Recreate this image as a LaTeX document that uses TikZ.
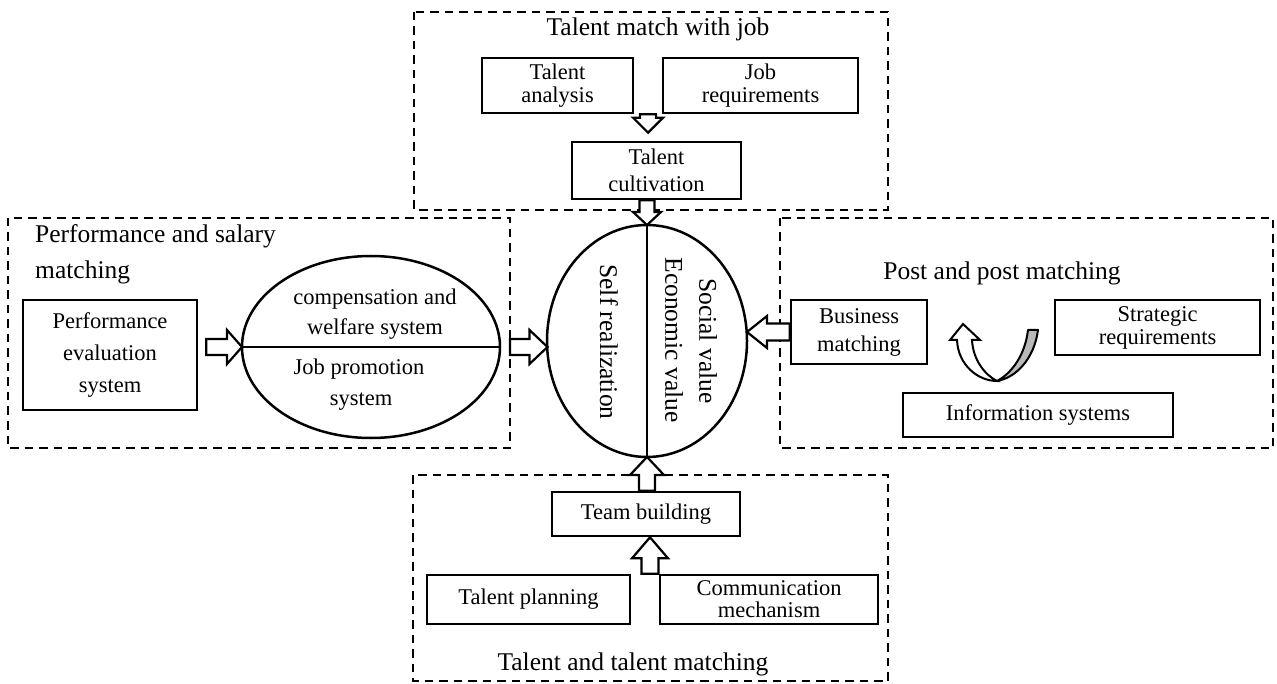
\documentclass[tikz,border=0pt]{standalone}
\usepackage{fontspec}
\setmainfont{Liberation Serif}
\usetikzlibrary{calc}
\newcommand{\myBody}{\fontsize{22.5}{23}\selectfont}
\newcommand{\myTitle}{\fontsize{25.5}{27}\selectfont}
\tikzset{
  blksw/.store in=\blksw, blkhw/.store in=\blkhw, blkhl/.store in=\blkhl,
  blksw=8pt, blkhw=16pt, blkhl=15pt,
  blk/.style={draw, fill=white, line width=2.2pt, line join=miter, to path={
    ($(\tikztostart)!\blksw!90:(\tikztotarget)$)
    -- ($(\tikztotarget)!\blkhl!(\tikztostart)!\blksw!-90:(\tikztostart)$)
    -- ($(\tikztotarget)!\blkhl!(\tikztostart)!\blkhw!-90:(\tikztostart)$)
    -- (\tikztotarget)
    -- ($(\tikztotarget)!\blkhl!(\tikztostart)!\blkhw!90:(\tikztostart)$)
    -- ($(\tikztotarget)!\blkhl!(\tikztostart)!\blksw!90:(\tikztostart)$)
    -- ($(\tikztostart)!\blksw!-90:(\tikztotarget)$)
    -- cycle}},
  box/.style={draw, line width=2.6pt, inner sep=0pt, align=center, font=\myBody},
  grp/.style={draw, line width=2.6pt, dash pattern=on 8.5pt off 6pt},
  ttl/.style={font=\myTitle, inner sep=0pt},
  txt/.style={font=\myBody, inner sep=0pt},
  vtxt/.style={font=\myTitle, inner sep=0pt, rotate=-90},
  ellline/.style={line width=2.5pt},
}
\begin{document}
\begin{tikzpicture}[x=1pt,y=-1pt]
\useasboundingbox[fill=white] (0,0) rectangle (1277,684);

% group frames
\draw[grp] (414,12) rectangle (888,210);
\draw[grp] (8,218) rectangle (510,448);
\draw[grp] (780,218) rectangle (1273,448);
\draw[grp] (413,475) rectangle (888,681);

% titles
\node[ttl, anchor=base] (t1) at (658,36) {Talent match with job};
\node[ttl, anchor=base west] (t2a) at (35,243) {Performance and salary};
\node[ttl, anchor=base west] (t2b) at (35,279) {matching};
\node[ttl, anchor=base] (t3) at (1002,280) {Post and post matching};
\node[ttl, anchor=base] (t4) at (633,670) {Talent and talent matching};

% boxes
\node[box, minimum width=151, minimum height=55] (ta) at (557.5,85.5) {Talent\\analysis};
\node[box, minimum width=195, minimum height=55] (jr) at (760.5,85.5) {Job\\requirements};
\node[box, minimum width=169, minimum height=57, font={\fontsize{22.5}{27}\selectfont}] (tc) at (656.5,170.5) {Talent\\cultivation};
\node[box, minimum width=174, minimum height=110, font={\fontsize{22.5}{32}\selectfont}] (pe) at (110,355) {Performance\\evaluation\\system};
\node[box, minimum width=136, minimum height=64, font={\fontsize{22.5}{28}\selectfont}] (bm) at (859,332) {Business\\matching};
\node[box, minimum width=205, minimum height=55] (sr) at (1157.5,327.5) {Strategic\\requirements};
\node[box, minimum width=270, minimum height=44] (is) at (1038,415) {Information systems};
\node[box, minimum width=188, minimum height=44] (tb) at (646,514) {Team building};
\node[box, minimum width=203, minimum height=49] (tp) at (528.5,599.5) {Talent planning};
\node[box, minimum width=218, minimum height=49, font={\fontsize{22.5}{22}\selectfont}] (cm) at (769,599.5) {Communication\\mechanism};

% ellipses
\draw[ellline] (371,347) ellipse [x radius=129, y radius=91];
\coordinate (le) at (371,347);
\coordinate (lew) at (242,347);
\coordinate (lee) at (500,347);
\draw[line width=2.2pt] (lew) -- (lee);
\node[txt, anchor=base] (c1) at (375,305) {compensation and};
\node[txt, anchor=base] (c2) at (375,335) {welfare system};
\node[txt, anchor=base] (c3) at (359,375) {Job promotion};
\node[txt, anchor=base] (c4) at (361,406) {system};

\draw[ellline] (647,341) ellipse [x radius=100, y radius=116];
\coordinate (ce) at (647,341);
\coordinate (cen) at (647,225);
\coordinate (ces) at (647,457);
\coordinate (cee) at (747,341);
\draw[line width=2.2pt] (cen) -- (ces);
\node[vtxt] (v1) at (609,342) {Self realization};
\node[vtxt] (v2) at (674,340) {Economic value};
\node[vtxt] (v3) at (708,341) {Social value};

% hollow block arrows
\coordinate (a1s) at ($(ta.south east)!.5!(jr.south west)$);
\coordinate (a1e) at ($(a1s |- tc.north)+(0,-8)$);
\draw[blk, blksw=8pt, blkhw=15pt, blkhl=15pt] (a1s) to (a1e);

\coordinate (a2s) at (cen |- tc.south);
\draw[blk, blksw=7.5pt, blkhw=14pt, blkhl=13pt] (a2s) to (cen);

\coordinate (a3s) at ($(pe.east |- lew)+(8,0)$);
\draw[blk, blksw=8pt, blkhw=17pt, blkhl=15pt] (a3s) to (lew);

\coordinate (a4s) at (510,347);
\coordinate (a4e) at (547.5,347);
\draw[blk, blksw=8pt, blkhw=17pt, blkhl=18pt] (a4s) to (a4e);

\coordinate (a5e) at (bm.west -| cee);
\draw[blk, blksw=8.5pt, blkhw=16pt, blkhl=20pt] (bm.west) to (a5e);

\coordinate (a6s) at (ces |- tb.north);
\draw[blk, blksw=8pt, blkhw=17pt, blkhl=18pt] (a6s) to (ces);

\coordinate (a7s) at ($(tp.north east)!.5!(cm.north west)+(5,0)$);
\coordinate (a7e) at (a7s |- tb.south);
\draw[blk, blksw=8.5pt, blkhw=18pt, blkhl=21pt] (a7s) to (a7e);

% curved ribbon arrow
\draw[line width=2pt, fill=gray!55, line join=round]
  (997,381) .. controls (1015,378) and (1034,360) .. (1038,330)
  -- (1028,330) .. controls (1025,355) and (1012,373) .. (997,381) -- cycle;
\draw[line width=2pt, fill=white, line join=miter]
  (957,340) -- (950,340) -- (963,324) -- (980,340) -- (972,340)
  .. controls (973,360) and (985,375) .. (997,381)
  .. controls (978,381) and (958,365) .. (957,340) -- cycle;
\end{tikzpicture}
\end{document}
